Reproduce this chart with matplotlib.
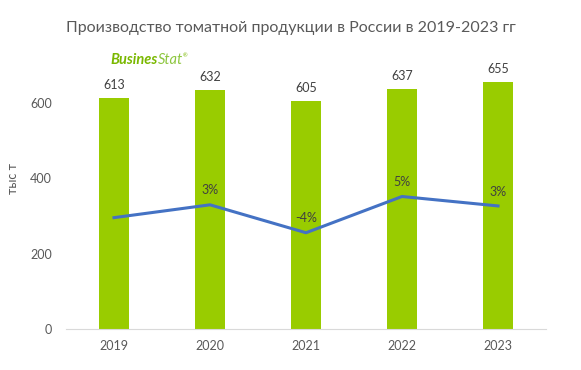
import matplotlib.pyplot as plt

years = ['2019', '2020', '2021', '2022', '2023']
production = [613, 632, 605, 637, 655]
growth = [-0.3, 3.1, -4.3, 5.3, 2.8]
growth_labels = ['', '3%', '-4%', '5%', '3%']

plt.rcParams['font.family'] = ['Lato', 'DejaVu Sans']

fig = plt.figure(figsize=(5.81, 3.70), dpi=100)
ax = fig.add_axes([0.1136, 0.1108, 0.8262, 0.8162])

x = range(len(years))
bars = ax.bar(x, production, width=0.31, color='#99CC00', zorder=2)

for bar, val in zip(bars, production):
    ax.annotate(str(val), (bar.get_x() + bar.get_width() / 2, val),
                xytext=(0, 5), textcoords='offset points',
                ha='center', va='bottom', fontsize=9, color='#404040')

ax.set_xlim(-0.5, len(years) - 0.5)
ax.set_ylim(0, 800)
ax.set_yticks([0, 200, 400, 600])
ax.set_xticks(list(x))
ax.set_xticklabels(years)
ax.tick_params(axis='both', length=0, labelsize=9, labelcolor='#595959')
ax.tick_params(axis='y', pad=10)
ax.tick_params(axis='x', pad=8)
for s in ['top', 'right', 'left']:
    ax.spines[s].set_visible(False)
ax.spines['bottom'].set_color('#D9D9D9')
ax.set_ylabel('тыс т', fontsize=9, color='#595959', labelpad=8)

# вторая ось для прироста
ax2 = ax.twinx()
ax2.plot(list(x), growth, color='#4472C4', linewidth=2.2, zorder=3)
ax2.set_ylim(-29.8, 50.2)
ax2.axis('off')
for i, lab in enumerate(growth_labels):
    if lab:
        ax2.annotate(lab, (i, growth[i]), xytext=(0, 6), textcoords='offset points',
                     ha='center', va='bottom', fontsize=9, color='#404040')

fig.text(0.5, 0.925, 'Производство томатной продукции в России в 2019-2023 гг',
         ha='center', va='center', fontsize=11.5, color='#595959')

# логотип
t1 = fig.text(0.19, 0.838, 'Busines', ha='left', va='center', fontsize=10.5,
              fontweight='bold', style='italic', color='#7AB800')
t2 = ax.annotate('Stat', xy=(1, 0.5), xycoords=t1, ha='left', va='center',
                 fontsize=10.5, style='italic', color='#8DC63F')
ax.annotate('®', xy=(1, 1), xycoords=t2, ha='left', va='top',
            fontsize=4, color='#7AB800')

fig.savefig('out.png', dpi=100)
